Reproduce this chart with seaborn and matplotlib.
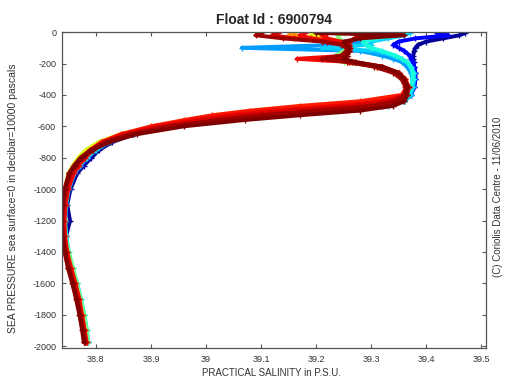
import numpy as np
import pandas as pd
import matplotlib
matplotlib.use("Agg")
import matplotlib.pyplot as plt
import seaborn as sns

# Pressure levels (decibar, plotted as negative)
pressure = [5, 20, 40, 60, 80, 100, 120, 150, 170, 190, 220, 260, 300, 350, 400, 440, 470, 500, 530, 560,
            600, 650, 700, 750, 800, 850, 900, 1000, 1100, 1200, 1300, 1400, 1500, 1600, 1700, 1800, 1900, 1975]

# Salinity profiles (ordered in time, early -> late)
sal_p01 = [39.47, 39.46, 39.43, 39.40, 39.385, 39.38, 39.378, 39.376, 39.376, 39.377, 39.378, 39.38, 39.38, 39.378, 39.372, 39.36, 39.32, 39.22, 39.10, 39.02,
           38.94, 38.87, 38.83, 38.806, 38.792, 38.778, 38.766, 38.754, 38.748, 38.753, 38.746, 38.75, 38.756, 38.763, 38.77, 38.775, 38.78, 38.783]
sal_p02 = [39.42, 39.44, 39.38, 39.35, 39.34, 39.35, 39.36, 39.37, 39.372, 39.375, 39.378, 39.38, 39.38, 39.378, 39.372, 39.35, 39.30, 39.19, 39.08, 39.00,
           38.93, 38.865, 38.825, 38.80, 38.786, 38.773, 38.762, 38.751, 38.745, 38.743, 38.744, 38.748, 38.754, 38.761, 38.768, 38.773, 38.778, 38.781]
sal_p03 = [39.33, 39.32, 39.30, 39.28, 39.25, 39.065, 39.28, 39.32, 39.34, 39.355, 39.365, 39.372, 39.375, 39.375, 39.37, 39.355, 39.31, 39.21, 39.10, 39.01,
           38.935, 38.865, 38.825, 38.80, 38.784, 38.77, 38.76, 38.75, 38.745, 38.743, 38.744, 38.748, 38.755, 38.763, 38.771, 38.777, 38.782, 38.785]
sal_p04 = [39.37, 39.36, 39.33, 39.30, 39.30, 39.21, 39.31, 39.34, 39.355, 39.365, 39.372, 39.378, 39.378, 39.376, 39.372, 39.36, 39.33, 39.24, 39.12, 39.03,
           38.945, 38.87, 38.825, 38.80, 38.783, 38.771, 38.761, 38.751, 38.746, 38.744, 38.745, 38.75, 38.757, 38.765, 38.772, 38.778, 38.783, 38.786]
sal_p05 = [39.36, 39.35, 39.31, 39.285, 39.29, 39.30, 39.32, 39.345, 39.355, 39.365, 39.372, 39.375, 39.375, 39.372, 39.366, 39.34, 39.27, 39.16, 39.06, 38.99,
           38.925, 38.86, 38.82, 38.797, 38.782, 38.77, 38.76, 38.75, 38.745, 38.744, 38.746, 38.751, 38.758, 38.766, 38.773, 38.779, 38.784, 38.786]
sal_p06 = [39.25, 39.24, 39.24, 39.25, 39.26, 39.26, 39.25, 39.235, 39.22, 39.25, 39.31, 39.345, 39.36, 39.366, 39.36, 39.33, 39.25, 39.14, 39.05, 38.98,
           38.915, 38.85, 38.81, 38.788, 38.773, 38.762, 38.754, 38.746, 38.742, 38.741, 38.744, 38.75, 38.758, 38.765, 38.772, 38.778, 38.783, 38.785]
sal_p07 = [39.20, 39.19, 39.22, 39.24, 39.255, 39.26, 39.26, 39.25, 39.23, 39.26, 39.31, 39.345, 39.357, 39.366, 39.362, 39.30, 39.20, 39.10, 39.02, 38.965,
           38.905, 38.845, 38.805, 38.782, 38.768, 38.758, 38.75, 38.744, 38.740, 38.739, 38.740, 38.744, 38.75, 38.758, 38.766, 38.772, 38.777, 38.780]
sal_p08 = [39.16, 39.15, 39.20, 39.235, 39.255, 39.26, 39.26, 39.25, 39.22, 39.26, 39.31, 39.345, 39.358, 39.365, 39.362, 39.33, 39.26, 39.15, 39.055, 38.985,
           38.915, 38.852, 38.812, 38.79, 38.776, 38.765, 38.757, 38.748, 38.744, 38.742, 38.743, 38.747, 38.753, 38.761, 38.768, 38.773, 38.778, 38.781]
sal_p09 = [39.30, 39.29, 39.27, 39.26, 39.255, 39.26, 39.26, 39.25, 39.22, 39.27, 39.32, 39.35, 39.362, 39.365, 39.355, 39.28, 39.17, 39.08, 39.01, 38.96,
           38.90, 38.845, 38.81, 38.79, 38.777, 38.766, 38.757, 38.748, 38.743, 38.741, 38.742, 38.746, 38.753, 38.761, 38.768, 38.773, 38.778, 38.781]
sal_p10 = [39.22, 39.21, 39.22, 39.245, 39.26, 39.262, 39.26, 39.255, 39.165, 39.26, 39.315, 39.348, 39.36, 39.368, 39.364, 39.32, 39.23, 39.12, 39.035, 38.975,
           38.91, 38.85, 38.812, 38.792, 38.778, 38.767, 38.758, 38.749, 38.744, 38.742, 38.743, 38.747, 38.754, 38.762, 38.769, 38.774, 38.779, 38.782]
sal_p11 = [39.18, 39.17, 39.19, 39.23, 39.25, 39.26, 39.26, 39.255, 39.25, 39.265, 39.32, 39.35, 39.362, 39.368, 39.365, 39.345, 39.29, 39.18, 39.08, 39.00,
           38.925, 38.858, 38.815, 38.795, 38.781, 38.769, 38.76, 38.75, 38.745, 38.743, 38.744, 38.748, 38.755, 38.763, 38.77, 38.775, 38.78, 38.783]
sal_p12 = [39.13, 39.12, 39.16, 39.22, 39.25, 39.26, 39.26, 39.25, 39.24, 39.26, 39.31, 39.345, 39.358, 39.366, 39.362, 39.33, 39.26, 39.15, 39.06, 38.99,
           38.92, 38.855, 38.815, 38.792, 38.776, 38.764, 38.755, 38.747, 38.742, 38.740, 38.741, 38.745, 38.752, 38.760, 38.767, 38.773, 38.778, 38.781]
sal_p13 = [39.35, 39.30, 39.27, 39.26, 39.26, 39.26, 39.258, 39.25, 39.23, 39.265, 39.315, 39.347, 39.36, 39.367, 39.363, 39.35, 39.31, 39.22, 39.11, 39.025,
           38.94, 38.865, 38.82, 38.793, 38.775, 38.764, 38.754, 38.745, 38.741, 38.739, 38.741, 38.745, 38.751, 38.759, 38.766, 38.772, 38.777, 38.780]
sal_p14 = [39.10, 39.09, 39.14, 39.21, 39.245, 39.255, 39.255, 39.245, 39.21, 39.255, 39.305, 39.34, 39.355, 39.362, 39.36, 39.345, 39.30, 39.20, 39.10, 39.02,
           38.935, 38.862, 38.818, 38.79, 38.772, 38.76, 38.751, 38.743, 38.739, 38.737, 38.739, 38.743, 38.749, 38.757, 38.764, 38.77, 38.775, 38.778]
sal_p15 = [39.20, 39.36, 39.28, 39.25, 39.255, 39.26, 39.26, 39.255, 39.25, 39.27, 39.32, 39.35, 39.36, 39.366, 39.365, 39.36, 39.34, 39.28, 39.17, 39.07,
           38.96, 38.875, 38.825, 38.795, 38.775, 38.762, 38.752, 38.744, 38.740, 38.738, 38.740, 38.744, 38.75, 38.758, 38.765, 38.771, 38.776, 38.779]

profiles = [sal_p01, sal_p02, sal_p03, sal_p04, sal_p05, sal_p06, sal_p07, sal_p08,
            sal_p09, sal_p10, sal_p11, sal_p12, sal_p13, sal_p14, sal_p15]
profile_names = ["p%02d" % (i + 1) for i in range(len(profiles))]
time_fraction = [0.02, 0.12, 0.28, 0.33, 0.38, 0.50, 0.62, 0.75, 0.88, 0.90, 0.90, 0.92, 0.95, 0.97, 1.0]

xtick_vals = [38.8, 38.9, 39.0, 39.1, 39.2, 39.3, 39.4, 39.5]
xtick_labels = ["38.8", "38.9", "39", "39.1", "39.2", "39.3", "39.4", "39.5"]
ytick_vals = [0, -200, -400, -600, -800, -1000, -1200, -1400, -1600, -1800, -2000]

rows = []
for name, sal in zip(profile_names, profiles):
    for p, s in zip(pressure, sal):
        rows.append({"profile": name, "S": s, "P": -p})
df = pd.DataFrame(rows)

cmap = matplotlib.colormaps["jet"]
palette = {n: cmap(t) for n, t in zip(profile_names, time_fraction)}

sns.set_style("white")
plt.rcParams["font.family"] = ["Liberation Sans", "DejaVu Sans"]
plt.rcParams["axes.unicode_minus"] = False

fig = plt.figure(figsize=(5.23, 3.78), dpi=100)
ax = fig.add_axes([0.118, 0.079, 0.811, 0.836])

sns.lineplot(data=df, x="S", y="P", hue="profile", hue_order=profile_names, palette=palette,
             sort=False, estimator=None, legend=False, ax=ax,
             linewidth=2.8, marker="+", markersize=5, markeredgewidth=1.0)
for ln in ax.lines:
    ln.set_markeredgecolor(ln.get_color())
    ln.set_markerfacecolor(ln.get_color())

ax.set_xlim(38.738, 39.508)
ax.set_ylim(-2013, 0)
ax.set_xticks(xtick_vals)
ax.set_xticklabels(xtick_labels)
ax.set_yticks(ytick_vals)
ax.set_yticklabels([str(v) for v in ytick_vals])
ax.tick_params(direction="in", length=3, width=0.8, colors="#555555", labelcolor="#333333",
               labelsize=6.5, top=True, right=True, bottom=True, left=True)
ax.tick_params(axis="x", pad=5)
ax.tick_params(axis="y", pad=4)
for sp in ax.spines.values():
    sp.set_color("#555555")
    sp.set_linewidth(0.9)
    sp.set_visible(True)

ax.set_xlabel("PRACTICAL SALINITY in P.S.U.", fontsize=7, color="#333333")
ax.xaxis.set_label_coords(0.494, -0.062)
ax.set_ylabel("SEA PRESSURE sea surface=0 in decibar=10000 pascals", fontsize=7.5, color="#333333")
ax.yaxis.set_label_coords(-0.104, 0.475)
ax.set_title("Float Id : 6900794", fontsize=10, fontweight="bold", pad=6)
fig.text(0.952, 0.48, "(C) Coriolis Data Centre - 11/06/2010", rotation=90, fontsize=7,
         color="#333333", ha="center", va="center")

fig.savefig("out.png", dpi=100)
